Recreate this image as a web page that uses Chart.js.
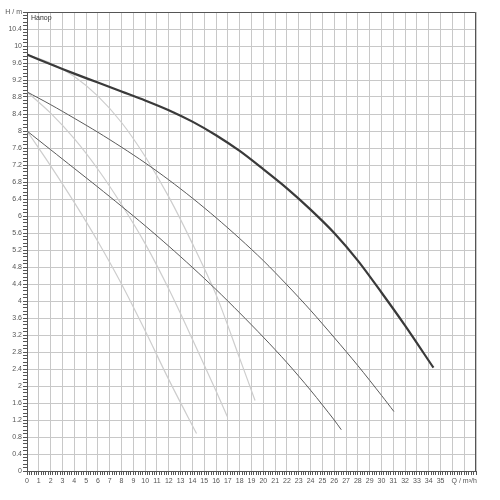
<!DOCTYPE html>
<html>
<head>
<meta charset="utf-8">
<script src="https://cdn.jsdelivr.net/npm/chart.js@4"></script>
<style>
html,body{margin:0;padding:0;background:#fff;}
#c{display:block;}
</style>
</head>
<body>
<canvas id="c" width="500" height="500"></canvas>
<script>
// Curve A (thick, top pump curve)
const qA = [0, 2, 4, 6, 8, 10, 12, 14, 16, 18, 20, 22, 24, 26, 28, 30, 32, 34.4];
const hA = [9.8, 9.57, 9.35, 9.14, 8.93, 8.72, 8.49, 8.22, 7.9, 7.53, 7.1, 6.65, 6.15, 5.6, 4.95, 4.2, 3.42, 2.43];
// Curve B (middle dark)
const qB = [0, 2, 4, 6, 8, 10, 12, 14, 16, 18, 20, 22, 24, 26, 28, 30, 31.05];
const hB = [8.92, 8.62, 8.3, 7.97, 7.62, 7.25, 6.85, 6.42, 5.96, 5.47, 4.95, 4.38, 3.78, 3.14, 2.48, 1.78, 1.4];
// Curve C (lower dark)
const qC = [0, 2, 4, 6, 8, 10, 12, 14, 16, 18, 20, 22, 24, 26, 26.6];
const hC = [8.0, 7.56, 7.12, 6.68, 6.23, 5.77, 5.29, 4.79, 4.27, 3.72, 3.15, 2.55, 1.9, 1.2, 0.97];
// Curve D (light, from 9.8)
const qD = [0, 2, 4, 6, 8, 10, 12, 14, 16, 18, 19.3];
const hD = [9.8, 9.6, 9.28, 8.82, 8.2, 7.4, 6.45, 5.35, 4.15, 2.65, 1.66];
// Curve E (light, from 8.9)
const qE = [0, 2, 4, 6, 8, 10, 12, 14, 16, 16.95];
const hE = [8.92, 8.42, 7.82, 7.1, 6.27, 5.35, 4.28, 3.1, 1.88, 1.28];
// Curve F (light, from 8.0)
const qF = [0, 2, 4, 6, 8, 10, 12, 14.35];
const hF = [8.0, 7.18, 6.32, 5.4, 4.4, 3.3, 2.15, 0.88];

const xMin = 0, xMax = 38, xMinorStep = 0.2, xMajorStep = 1, xLastLabel = 35, xAxisTitleAt = 37;
const yMin = 0, yMax = 10.8, yMinorStep = 0.08, yMajorStep = 0.4;
const xAxisTitle = 'Q / m³/h';
const yAxisTitle = 'H / m';
const curveLabel = 'Напор';

const pts = (q, h) => q.map((x, i) => ({x: x, y: h[i]}));
const isMajor = (v, s) => Math.abs(v / s - Math.round(v / s)) < 1e-6;
const near = (a, b) => Math.abs(a - b) < 1e-6;

const FONT = {family: '"Liberation Sans", Arial, sans-serif', size: 7};

const frame = {
  id: 'frame',
  afterDatasetsDraw(chart) {
    const {ctx, chartArea: a} = chart;
    ctx.save();
    ctx.strokeStyle = '#555';
    ctx.lineWidth = 1;
    ctx.beginPath();
    ctx.moveTo(a.left, a.top + 0.5);
    ctx.lineTo(a.right - 0.5, a.top + 0.5);
    ctx.lineTo(a.right - 0.5, a.bottom);
    ctx.stroke();
    ctx.font = '7px "Liberation Sans", Arial, sans-serif';
    ctx.fillStyle = '#333';
    ctx.textBaseline = 'middle';
    ctx.fillText(curveLabel, a.left + 4, a.top + 6);
    ctx.restore();
  }
};

const dark = '#3a3a3a', mid = '#5a5a5a', light = '#cdcdcd';
const ds = (q, h, color, w) => ({
  data: pts(q, h), borderColor: color, borderWidth: w, pointRadius: 0,
  showLine: true, fill: false, tension: 0.3
});

new Chart(document.getElementById('c'), {
  type: 'scatter',
  data: {
    datasets: [
      ds(qA, hA, dark, 2.2),
      ds(qB, hB, mid, 1),
      ds(qC, hC, mid, 1),
      ds(qD, hD, light, 1.2),
      ds(qE, hE, light, 1.2),
      ds(qF, hF, light, 1.2)
    ]
  },
  options: {
    responsive: false,
    animation: false,
    events: [],
    layout: {padding: {left: 0, top: 12, right: 24, bottom: 0}},
    plugins: {legend: {display: false}, tooltip: {enabled: false}},
    scales: {
      x: {
        type: 'linear', min: xMin, max: xMax,
        afterFit(s) { s.height = 29; },
        border: {display: true, color: '#555', width: 1},
        grid: {
          color: c => (c.tick && isMajor(c.tick.value, xMajorStep) && c.tick.value > 0) ? '#c8c8c8' : 'rgba(0,0,0,0)',
          tickColor: '#555', tickLength: 4, tickWidth: 1, drawTicks: true
        },
        ticks: {
          stepSize: xMinorStep, autoSkip: false, maxRotation: 0, minRotation: 0,
          padding: 2, color: '#555', font: FONT,
          callback: v => {
            if (!isMajor(v, xMajorStep)) return '';
            const r = Math.round(v);
            if (r === xAxisTitleAt) return xAxisTitle;
            if (r > xLastLabel) return '';
            return String(r);
          }
        }
      },
      y: {
        type: 'linear', min: yMin, max: yMax,
        afterFit(s) { s.width = 27; },
        border: {display: true, color: '#555', width: 1},
        grid: {
          color: c => (c.tick && isMajor(c.tick.value, yMajorStep) && c.tick.value > 0.01) ? '#c8c8c8' : 'rgba(0,0,0,0)',
          tickColor: '#555', tickLength: 4, tickWidth: 1, drawTicks: true
        },
        ticks: {
          stepSize: yMinorStep, autoSkip: false, padding: 1, color: '#555', font: FONT,
          callback: v => {
            if (!isMajor(v, yMajorStep)) return '';
            if (near(v, yMax)) return yAxisTitle;
            return String(Math.round(v * 10) / 10);
          }
        }
      }
    }
  },
  plugins: [frame]
});
</script>
</body>
</html>
